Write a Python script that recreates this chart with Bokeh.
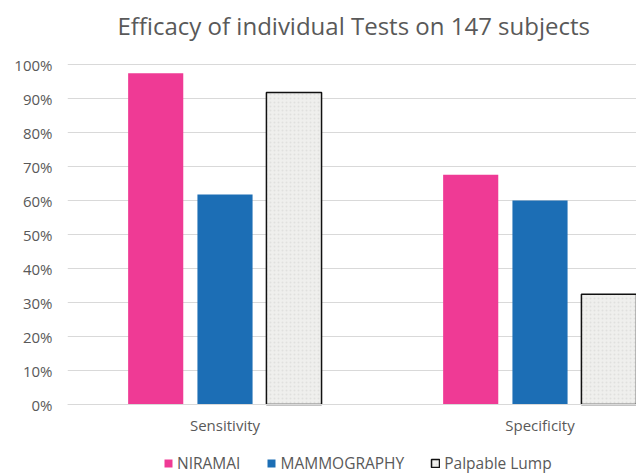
from bokeh.plotting import figure
from bokeh.models import Range1d, FixedTicker, NumeralTickFormatter, Legend, LegendItem
from bokeh.embed import file_html
from bokeh.resources import INLINE

categories = ["Sensitivity", "Specificity"]
series = ["NIRAMAI", "MAMMOGRAPHY", "Palpable Lump"]
niramai = [0.974, 0.676]
mammography = [0.618, 0.600]
palpable = [0.918, 0.324]
yticks = [0, 0.1, 0.2, 0.3, 0.4, 0.5, 0.6, 0.7, 0.8, 0.9, 1.0]

FONT = "Open Sans"
GREY = "#595959"

p = figure(frame_width=569, frame_height=430, output_backend="svg", toolbar_location=None,
           x_range=Range1d(0, 569 / 315), y_range=Range1d(-70 / 340, 360 / 340),
           min_border_left=67, min_border_right=0, min_border_top=44, min_border_bottom=0,
           title="Efficacy of individual Tests on 147 subjects")
p.outline_line_color = None
p.background_fill_color = "white"
p.border_fill_color = "white"

p.title.text_font = FONT
p.title.text_font_size = "24px"
p.title.text_font_style = "normal"
p.title.text_color = GREY
p.title.align = "left"
p.title.offset = 50
p.title.standoff = 6

xs = [i + 0.5 for i in range(len(categories))]
offs = [-0.22, 0.0, 0.219]
w = 0.175
colors = ["#ef3a95", "#1c6eb5"]

r1 = p.vbar(x=[x + offs[0] for x in xs], top=niramai, width=w, fill_color=colors[0], line_color=None)
r2 = p.vbar(x=[x + offs[1] for x in xs], top=mammography, width=w, fill_color=colors[1], line_color=None)
r3 = p.vbar(x=[x + offs[2] for x in xs], top=palpable, width=w, fill_color="#efefed",
            hatch_pattern=".", hatch_color="#e0e0de", hatch_scale=4, hatch_weight=1,
            line_color="#111111", line_width=1.5)

p.yaxis.ticker = FixedTicker(ticks=yticks)
p.yaxis.formatter = NumeralTickFormatter(format="0%")
p.yaxis.axis_line_color = None
p.yaxis.major_tick_line_color = None
p.yaxis.minor_tick_line_color = None
p.yaxis.major_tick_out = 0
p.yaxis.major_tick_in = 0
p.yaxis.minor_tick_out = 0
p.yaxis.major_label_text_font = FONT
p.yaxis.major_label_text_font_size = "15px"
p.yaxis.major_label_text_color = GREY
p.yaxis.major_label_standoff = 15

p.xaxis.fixed_location = 0
p.xaxis.ticker = FixedTicker(ticks=xs)
p.xaxis.major_label_overrides = {x: c for x, c in zip(xs, categories)}
p.xaxis.axis_line_color = "#d9d9d9"
p.xaxis.major_tick_line_color = None
p.xaxis.minor_tick_line_color = None
p.xaxis.major_tick_out = 0
p.xaxis.major_tick_in = 0
p.xaxis.minor_tick_out = 0
p.xaxis.major_label_text_font = FONT
p.xaxis.major_label_text_font_size = "15px"
p.xaxis.major_label_text_color = GREY
p.xaxis.major_label_standoff = 10

p.xgrid.grid_line_color = None
p.ygrid.grid_line_color = "#d9d9d9"
p.ygrid.ticker = FixedTicker(ticks=yticks)

legend = Legend(items=[LegendItem(label=series[0], renderers=[r1]),
                       LegendItem(label=series[1], renderers=[r2]),
                       LegendItem(label=series[2], renderers=[r3])],
                orientation="horizontal", location=(96, 0),
                glyph_width=10, glyph_height=10, label_text_font=FONT,
                label_text_font_size="15.5px", label_text_color=GREY,
                label_standoff=4, spacing=26, padding=2, margin=0,
                border_line_color=None, background_fill_alpha=0)
p.add_layout(legend, "center")

open("out.html", "w").write(file_html(p, INLINE))
